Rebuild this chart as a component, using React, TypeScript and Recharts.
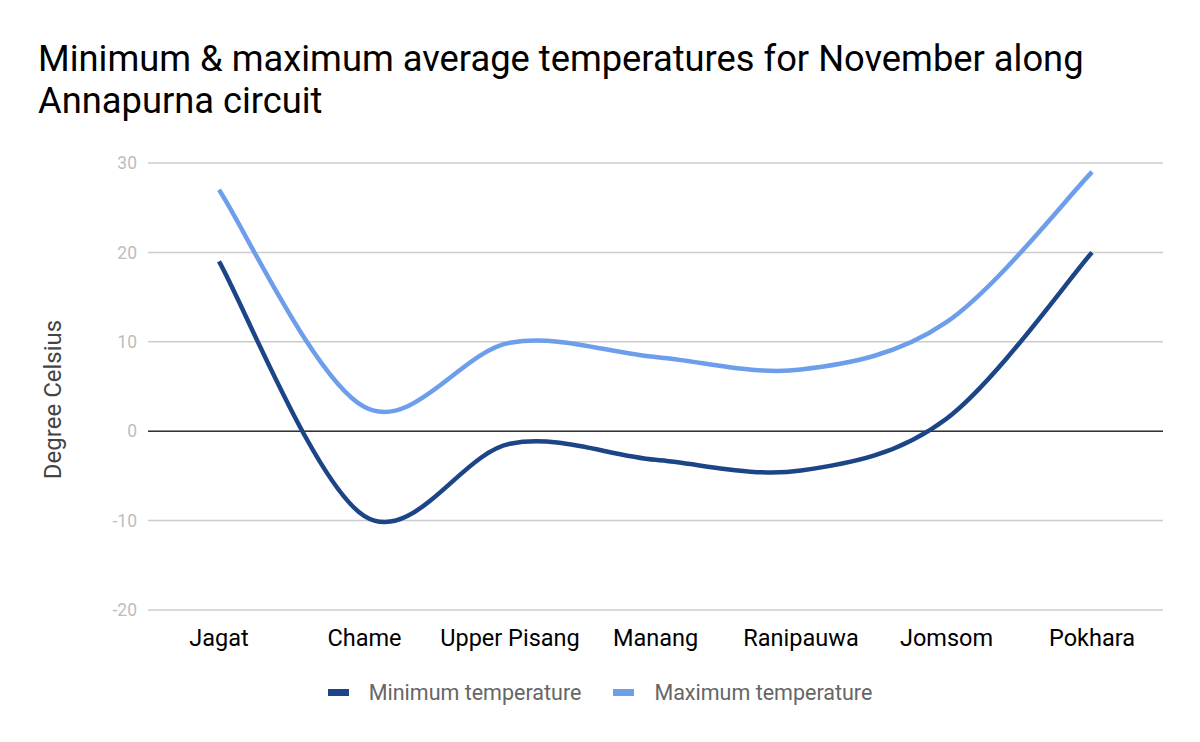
import {
  CartesianGrid,
  Label,
  Legend,
  Line,
  LineChart,
  ReferenceLine,
  XAxis,
  YAxis,
} from "recharts";

const PLACES = ["Jagat", "Chame", "Upper Pisang", "Manang", "Ranipauwa", "Jomsom", "Pokhara"];
const MIN_TEMP = [19, -9.5, -1.4, -3.2, -4.4, 1.4, 20];
const MAX_TEMP = [27, 2.7, 9.9, 8.3, 6.9, 12.2, 29];
const Y_TICKS = [-20, -10, 0, 10, 20, 30];

const MIN_COLOR = "#1c4587";
const MAX_COLOR = "#6d9eeb";
const FONT = "Roboto, 'Noto Sans', sans-serif";

const rows = PLACES.map((place, i) => ({
  place,
  min: MIN_TEMP[i],
  max: MAX_TEMP[i],
}));

// catmull-rom style smoothing, close to the "function" curve of the original
function smoothCurve(context: any) {
  let pts: number[][] = [];
  return {
    areaStart() {},
    areaEnd() {},
    lineStart() {
      pts = [];
    },
    point(x: number, y: number) {
      pts.push([+x, +y]);
    },
    lineEnd() {
      if (pts.length === 0) return;
      context.moveTo(pts[0][0], pts[0][1]);
      for (let i = 0; i < pts.length - 1; i++) {
        const p0 = pts[Math.max(0, i - 1)];
        const p1 = pts[i];
        const p2 = pts[i + 1];
        const p3 = pts[Math.min(pts.length - 1, i + 2)];
        context.bezierCurveTo(
          p1[0] + (p2[0] - p0[0]) / 6,
          p1[1] + (p2[1] - p0[1]) / 6,
          p2[0] - (p3[0] - p1[0]) / 6,
          p2[1] - (p3[1] - p1[1]) / 6,
          p2[0],
          p2[1]
        );
      }
    },
  };
}

const LEGEND_ITEMS = [
  { label: "Minimum temperature", color: MIN_COLOR },
  { label: "Maximum temperature", color: MAX_COLOR },
];

function LegendBox() {
  return (
    <div
      style={{
        display: "flex",
        justifyContent: "center",
        alignItems: "center",
        height: 40,
        gap: 32,
        fontFamily: FONT,
        fontSize: 21.5,
        color: "#666",
      }}
    >
      {LEGEND_ITEMS.map((item) => (
        <div key={item.label} style={{ display: "flex", alignItems: "center" }}>
          <span
            style={{ width: 21, height: 7, background: item.color, marginRight: 20, display: "inline-block" }}
          />
          {item.label}
        </div>
      ))}
    </div>
  );
}

export default function App() {
  return (
    <div style={{ position: "absolute", left: 0, top: 0, width: 1200, height: 742, background: "#fff" }}>
      <div
        style={{
          position: "absolute",
          left: 38,
          top: 38,
          fontFamily: FONT,
          fontSize: 36.3,
          lineHeight: "42px",
          color: "#000",
        }}
      >
        Minimum &amp; maximum average temperatures for November along
        <br />
        Annapurna circuit
      </div>
      <LineChart
        width={1200}
        height={742}
        data={rows}
        margin={{ top: 163, right: 37, left: 0, bottom: 30 }}
      >
        <CartesianGrid vertical={false} stroke="#cccccc" strokeWidth={1.5} />
        <XAxis
          dataKey="place"
          axisLine={false}
          tickLine={false}
          tickSize={0}
          tickMargin={19}
          height={62}
          padding={{ left: 71, right: 71 }}
          interval={0}
          tick={{ fill: "#000", fontSize: 23.5, fontFamily: FONT }}
        />
        <YAxis
          width={148}
          domain={[-20, 30]}
          ticks={Y_TICKS}
          axisLine={false}
          tickLine={false}
          tickSize={0}
          tickMargin={11}
          tick={{ fill: "#bdbdbd", fontSize: 17.5, fontFamily: FONT }}
        >
          <Label
            value="Degree Celsius"
            angle={-90}
            position="insideLeft"
            offset={52}
            dy={13}
            style={{ fill: "#444", fontSize: 24, fontFamily: FONT, textAnchor: "middle" }}
          />
        </YAxis>
        <ReferenceLine y={0} stroke="#333" strokeWidth={1.5} />
        <Legend
          verticalAlign="bottom"
          wrapperStyle={{ left: 0, width: 1200 }}
          content={() => <LegendBox />}
        />
        <Line
          dataKey="min"
          name="Minimum temperature"
          type={smoothCurve as any}
          stroke={MIN_COLOR}
          strokeWidth={4.5}
          dot={false}
          activeDot={false}
          isAnimationActive={false}
        />
        <Line
          dataKey="max"
          name="Maximum temperature"
          type={smoothCurve as any}
          stroke={MAX_COLOR}
          strokeWidth={4.5}
          dot={false}
          activeDot={false}
          isAnimationActive={false}
        />
      </LineChart>
    </div>
  );
}
